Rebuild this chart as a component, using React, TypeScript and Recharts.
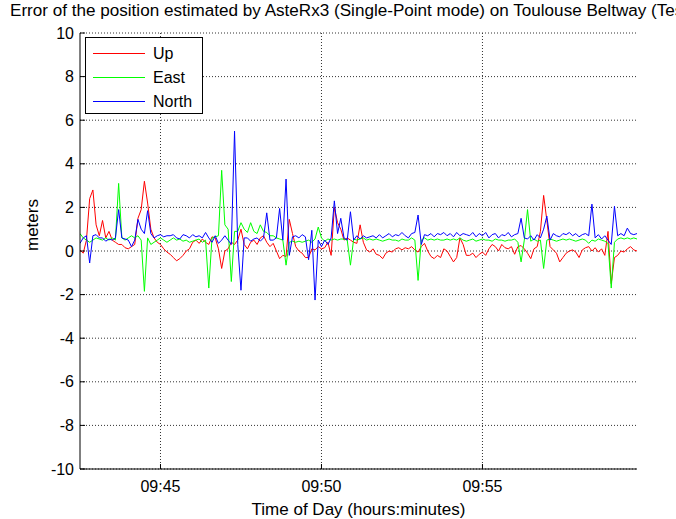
import { LineChart, Line, XAxis, YAxis, CartesianGrid } from 'recharts';

// time grid: minutes after 09:00, one sample every 6 s
const START_MIN = 42.5;
const STEP_MIN = 0.1;
const X_DOMAIN = [42.5, 59.8];
const Y_DOMAIN = [-10, 10];

const up = [
  0.05, -0.1, 0.5, 2.4, 2.8, 1.2, 0.7, 1.4, 0.6, 0.9,
  0.5, 0.4, 0.3, 0.3, 0.15, 0.1, 0.2, 0.3, 1.5, 1.9,
  3.2, 2.2, 1.0, 0.6, 0.4, 0.3, 0.1, -0.05, -0.15, -0.3,
  -0.45, -0.35, -0.2, 0.0, 0.1, 0.4, 0.5, 0.35, 0.55, 0.4,
  0.3, 0.65, 0.6, 0.1, -0.8, 0.0, 0.1, 0.4, 0.3, 0.5,
  1.0, 0.3, 0.1, 0.4, 0.5, 0.3, 0.6, 0.7, 0.4, 0.2,
  0.35, 0.0, -0.35, -0.2, -0.25, 1.45, 0.8, 0.2, 0.0, -0.1,
  -0.3, -0.3, 0.1, 0.05, 0.2, 0.1, 0.15, 0.4, -0.2, 2.0,
  1.3, 1.0, 0.5, 0.6, 0.5, 0.4, 0.35, 1.2, 0.4, 0.05,
  -0.05, 0.1, -0.15, -0.2, -0.35, -0.1, 0.0, -0.05, 0.1, 0.15,
  0.05, 0.15, 0.1, 0.2, 0.05, -0.05, 0.2, 0.35, 0.0, -0.25,
  -0.35, -0.2, -0.3, 0.1, 0.0, -0.25, -0.5, -0.3, 0.6, 0.3,
  -0.2, -0.2, -0.1, -0.3, -0.15, -0.05, -0.2, 0.1, 0.3, 0.2,
  0.0, 0.3, 0.15, 0.1, 0.2, -0.15, 0.2, 0.25, 0.1, -0.1,
  -0.35, 0.1, 0.2, 0.9, 2.55, 1.4, 0.2, 0.05, -0.1, -0.5,
  -0.3, -0.1, 0.0, 0.05, -0.05, -0.3, 0.05, 0.15, 0.2, 0.0,
  0.15, -0.05, 0.1, -0.2, 0.9, -1.5, -0.3, -0.2, 0.0, -0.05,
  0.1, 0.2, 0.05, 0.0,
];

const east = [
  0.8, 0.6, 0.5, 0.4, 0.5, 0.6, 0.55, 0.5, 0.6, 0.5,
  0.6, 0.5, 3.1, 0.6, 0.5, 0.6, 0.7, 0.6, 0.7, 0.5,
  -1.85, 0.6, 0.3, 0.4, 0.5, 0.6, 0.5, 0.4, 0.5, 0.6,
  0.5, 0.55, 0.45, 0.5, 0.4, 0.45, 0.5, 0.55, 0.4, 0.5,
  -1.7, 0.6, 0.65, 0.7, 3.7, 1.2, 1.0, -1.4, 0.9, 0.9,
  1.3, 1.0, 0.85, 1.3, 0.9, 0.8, 1.2, 0.9, 0.85, 0.7,
  0.7, 0.6, 0.55, 0.5, -0.65, 0.4, 0.45, 0.4, 0.45, 0.4,
  0.45, 0.5, 0.4, 0.55, 1.1, 0.6, 0.45, 0.55, 0.5, 0.55,
  0.5, 0.55, 0.55, 0.5, -0.65, 0.55, 0.5, 0.55, 0.6, 0.5,
  0.55, 0.5, 0.55, 0.5, 0.45, 0.5, 0.55, 0.5, 0.5, 0.45,
  0.55, 0.5, 0.5, 0.6, 0.5, -1.35, 0.5, 0.6, 0.5, 0.55,
  0.5, 0.55, 0.5, 0.5, 0.55, 0.5, 0.55, 0.5, 0.6, 0.5,
  0.45, 0.5, 0.55, 0.45, 0.5, 0.55, 0.5, 0.5, 0.45, 0.55,
  0.5, 0.5, 0.45, 0.5, 0.5, 0.55, 0.4, -0.5, 0.5, 1.9,
  0.45, 0.55, 0.45, 0.5, -0.8, 0.5, 0.55, 0.5, 0.45, 0.5,
  0.55, 0.5, 0.55, 0.5, 0.45, 0.5, 0.55, 0.5, 0.35, 0.5,
  0.45, 0.55, 0.5, 0.45, 0.35, -1.7, 0.4, 0.55, 0.6, 0.55,
  0.6, 0.55, 0.6, 0.55,
];

const north = [
  0.35, 0.6, 0.7, -0.55, 0.7, 0.75, 0.6, 0.6, 0.45, 0.55,
  0.5, 0.6, 1.9, 0.6, 0.55, 0.5, 0.2, 0.5, 1.45, 1.0,
  0.8, 1.85, 0.8, 0.6, 0.7, 0.75, 0.65, 0.7, 0.7, 0.75,
  0.6, 0.55, 0.75, 0.7, 0.6, 0.75, 0.65, 0.7, 0.6, 0.85,
  0.6, 0.4, 0.7, 0.35, 0.5, 0.7, 0.5, 0.3, 5.5, 0.3,
  -1.8, 0.6, 0.6, 0.45, 0.55, 0.6, 0.45, 0.6, 1.75, 0.5,
  0.5, 0.6, 1.95, 0.5, 3.3, -0.2, 0.65, 0.7, 0.6, 0.75,
  0.65, -0.4, 0.95, -2.25, 0.5, 0.2, 0.5, 0.3, 0.6, 2.3,
  0.8, 1.5, 0.6, 0.5, 1.8, 0.5, 0.7, 0.55, 0.7, 0.6,
  0.65, 0.7, 0.6, 0.75, 0.6, 0.7, 0.8, 0.65, 0.75, 0.7,
  0.85, 0.7, 0.6, 0.8, 0.85, 1.65, 0.3, 0.75, 0.7, 0.8,
  0.65, 0.8, 0.75, 0.85, 0.7, 0.8, 0.65, 0.85, 0.7, 0.8,
  0.75, 0.7, 0.85, 0.65, 0.8, 0.7, 0.85, 0.6, 0.75, 0.8,
  0.6, 0.75, 0.7, 0.85, 0.65, 0.75, 0.8, 1.5, 0.6, 0.55,
  0.7, 0.5, 0.75, 0.6, 1.0, 1.6, 0.5, 0.8, 0.7, 0.65,
  0.8, 0.75, 0.85, 0.7, 0.8, 0.65, 0.75, 0.8, 0.7, 2.15,
  0.6, 0.75, 0.55, 0.7, 0.5, 0.3, 2.05, 0.7, 0.8, 0.7,
  1.05, 0.8, 0.75, 0.8,
];

const xTicks = [45, 50, 55];
const yTicks = [-10, -8, -6, -4, -2, 0, 2, 4, 6, 8, 10];

const series = [
  { key: 'up', name: 'Up', color: '#ff0000' },
  { key: 'east', name: 'East', color: '#00ff00' },
  { key: 'north', name: 'North', color: '#0000ff' },
];

const data = up.map((v, i) => ({
  t: START_MIN + i * STEP_MIN,
  up: v,
  east: east[i],
  north: north[i],
}));

const FONT = '"Liberation Sans", Arial, sans-serif';
const blank = () => '';

// vertical grid only at the time ticks (no line on the right edge)
const verticalAtTicks = ({ xAxis, offset }: any) => {
  if (xAxis && typeof xAxis.scale === 'function') {
    return xTicks.map((t) => xAxis.scale(t));
  }
  return xTicks.map(
    (t) => offset.left + ((t - X_DOMAIN[0]) / (X_DOMAIN[1] - X_DOMAIN[0])) * offset.width
  );
};

const LegendBox = () => (
  <svg
    width={118}
    height={77}
    style={{ position: 'absolute', left: 85, top: 37, fontFamily: FONT }}
  >
    <rect x={0.5} y={0.5} width={117} height={76} fill="#fff" stroke="#000" strokeWidth={1} />
    {series.map((s, i) => (
      <g key={s.key}>
        <line x1={8} x2={60} y1={16.5 + i * 24} y2={16.5 + i * 24} stroke={s.color} strokeWidth={1} />
        <text x={68} y={16 + i * 24} dy="0.36em" fontSize={16} fill="#000">
          {s.name}
        </text>
      </g>
    ))}
  </svg>
);

export default function App() {
  return (
    <div style={{ position: 'absolute', left: 0, top: 0, width: 676, height: 519, background: '#fff', fontFamily: FONT, overflow: 'hidden' }}>
      <div style={{ position: 'absolute', left: 10, top: 1, fontSize: 17.1, whiteSpace: 'nowrap', color: '#000' }}>
        Error of the position estimated by AsteRx3 (Single-Point mode) on Toulouse Beltway (Test 1)
      </div>
      <LineChart width={676} height={519} data={data} margin={{ top: 33, right: 39, bottom: 0, left: 0 }}>
        <CartesianGrid stroke="#333" strokeDasharray="1 2" verticalCoordinatesGenerator={verticalAtTicks} />
        <XAxis
          dataKey="t"
          type="number"
          domain={X_DOMAIN}
          ticks={xTicks}
          allowDataOverflow
          height={50}
          stroke="#000"
          tickSize={-5}
          tickMargin={17}
          tick={{ fill: '#000', fontSize: 16, fontFamily: FONT }}
          tickFormatter={(m: number) => `09:${m}`}
          label={{ value: 'Time of Day (hours:minutes)', position: 'insideBottom', offset: 4, fill: '#000', fontSize: 17, fontFamily: FONT }}
        />
        <XAxis
          xAxisId="top"
          orientation="top"
          dataKey="t"
          type="number"
          domain={X_DOMAIN}
          ticks={xTicks}
          allowDataOverflow
          height={0}
          axisLine={false}
          stroke="#000"
          tickSize={-5}
          tickFormatter={blank}
        />
        <YAxis
          domain={Y_DOMAIN}
          ticks={yTicks}
          width={80}
          stroke="#000"
          tickSize={-5}
          tickMargin={11}
          tick={{ fill: '#000', fontSize: 16, fontFamily: FONT }}
          label={{ value: 'meters', angle: -90, position: 'insideLeft', offset: 32, fill: '#000', fontSize: 17, fontFamily: FONT }}
        />
        <YAxis
          yAxisId="right"
          orientation="right"
          domain={Y_DOMAIN}
          ticks={yTicks}
          width={0}
          axisLine={false}
          stroke="#000"
          tickSize={-5}
          tickFormatter={blank}
        />
        {series.map((s) => (
          <Line
            key={s.key}
            type="linear"
            dataKey={s.key}
            name={s.name}
            stroke={s.color}
            strokeWidth={1}
            dot={false}
            isAnimationActive={false}
          />
        ))}
      </LineChart>
      <LegendBox />
    </div>
  );
}
